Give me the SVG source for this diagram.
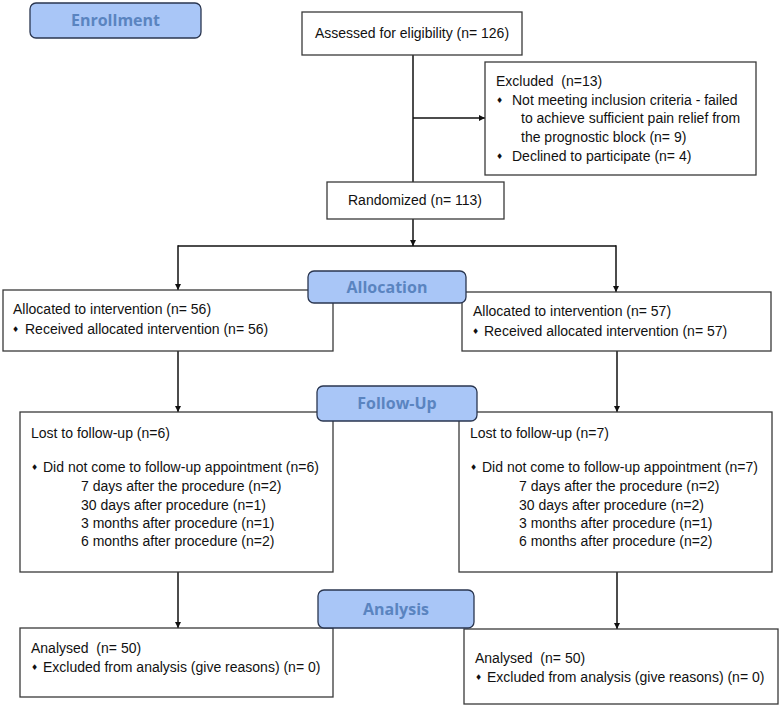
<svg xmlns="http://www.w3.org/2000/svg" width="780" height="707" viewBox="0 0 780 707">
<style>
  .box { fill: #ffffff; stroke: #3a3a3a; stroke-width: 1.3; }
  .lbl { fill: #a9c6f7; stroke: #2a3650; stroke-width: 1.3; }
  .lt { font-family: "Open Sans", "DejaVu Sans", sans-serif; font-weight: 700; font-size: 16px; fill: #5a84c0; text-anchor: middle; }
  .t { font-family: "Liberation Sans", Arial, sans-serif; font-size: 14px; fill: #111111; white-space: pre; }
  .b { font-family: "DejaVu Sans", sans-serif; font-size: 8px; fill: #111111; }
  .c { fill: none; stroke: #111111; stroke-width: 1.5; }
  .ca { fill: none; stroke: #111111; stroke-width: 1.5; marker-end: url(#arr); }
</style>
<defs>
  <marker id="arr" viewBox="0 0 10 10" refX="10" refY="5" markerWidth="6" markerHeight="6" markerUnits="userSpaceOnUse" orient="auto">
    <path d="M0,0 L10,5 L0,10 z" fill="#111111"/>
  </marker>
</defs>
<rect width="780" height="707" fill="#ffffff"/>

<g id="connectors">
  <line class="c" x1="413" y1="55" x2="413" y2="182"/>
  <line class="ca" x1="413" y1="118" x2="485" y2="118"/>
  <line class="ca" x1="413" y1="219" x2="413" y2="246"/>
  <line class="c" x1="178" y1="246" x2="616" y2="246"/>
  <line class="ca" x1="178" y1="245.3" x2="178" y2="290"/>
  <line class="ca" x1="616" y1="245.3" x2="616" y2="292"/>
  <line class="ca" x1="178" y1="351" x2="178" y2="412"/>
  <line class="ca" x1="617" y1="351" x2="617" y2="412"/>
  <line class="ca" x1="178" y1="572" x2="178" y2="628"/>
  <line class="ca" x1="617" y1="572" x2="617" y2="629"/>
</g>

<g id="assessed">
  <rect class="box" x="302" y="12" width="220" height="43"/>
  <text class="t" x="412" y="38" text-anchor="middle">Assessed for eligibility (n= 126)</text>
</g>

<g id="excluded">
  <rect class="box" x="485" y="62" width="271" height="113"/>
  <text class="t" x="496" y="86">Excluded  (n=13)</text>
  <text class="b" x="496" y="103">♦</text>
  <text class="t" x="512" y="105">Not meeting inclusion criteria - failed</text>
  <text class="t" x="521" y="123">to achieve sufficient pain relief from</text>
  <text class="t" x="521" y="142">the prognostic block (n= 9)</text>
  <text class="b" x="496" y="159">♦</text>
  <text class="t" x="512" y="161">Declined to participate (n= 4)</text>
</g>

<g id="randomized">
  <rect class="box" x="327" y="182" width="177" height="37"/>
  <text class="t" x="415" y="205" text-anchor="middle">Randomized (n= 113)</text>
</g>

<g id="alloc-left">
  <rect class="box" x="3" y="290" width="330" height="61"/>
  <text class="t" x="13" y="314">Allocated to intervention (n= 56)</text>
  <text class="b" x="12" y="332">♦</text>
  <text class="t" x="25" y="334">Received allocated intervention (n= 56)</text>
</g>

<g id="alloc-right">
  <rect class="box" x="462" y="292" width="309" height="59"/>
  <text class="t" x="473" y="316">Allocated to intervention (n= 57)</text>
  <text class="b" x="472" y="334">♦</text>
  <text class="t" x="484" y="336">Received allocated intervention (n= 57)</text>
</g>

<g id="fu-left">
  <rect class="box" x="20" y="412" width="313" height="160"/>
  <text class="t" x="31" y="438">Lost to follow-up (n=6)</text>
  <text class="b" x="31" y="470">♦</text>
  <text class="t" x="43" y="472">Did not come to follow-up appointment (n=6)</text>
  <text class="t" x="81" y="491">7 days after the procedure (n=2)</text>
  <text class="t" x="81" y="510">30 days after procedure (n=1)</text>
  <text class="t" x="81" y="528">3 months after procedure (n=1)</text>
  <text class="t" x="81" y="546">6 months after procedure (n=2)</text>
</g>

<g id="fu-right">
  <rect class="box" x="459" y="412" width="313" height="160"/>
  <text class="t" x="470" y="438">Lost to follow-up (n=7)</text>
  <text class="b" x="470" y="470">♦</text>
  <text class="t" x="482" y="472">Did not come to follow-up appointment (n=7)</text>
  <text class="t" x="519" y="491">7 days after the procedure (n=2)</text>
  <text class="t" x="519" y="510">30 days after procedure (n=2)</text>
  <text class="t" x="519" y="528">3 months after procedure (n=1)</text>
  <text class="t" x="519" y="546">6 months after procedure (n=2)</text>
</g>

<g id="an-left">
  <rect class="box" x="20" y="628" width="313" height="69"/>
  <text class="t" x="31" y="653">Analysed  (n= 50)</text>
  <text class="b" x="31" y="670">♦</text>
  <text class="t" x="43" y="672">Excluded from analysis (give reasons) (n= 0)</text>
</g>

<g id="an-right">
  <rect class="box" x="464" y="629" width="314" height="75"/>
  <text class="t" x="475" y="663">Analysed  (n= 50)</text>
  <text class="b" x="475" y="680">♦</text>
  <text class="t" x="487" y="682">Excluded from analysis (give reasons) (n= 0)</text>
</g>

<g id="label-enrollment">
  <rect class="lbl" x="30" y="3" width="171" height="35" rx="6"/>
  <text class="lt" x="115.5" y="26">Enrollment</text>
</g>
<g id="label-allocation">
  <rect class="lbl" x="308" y="271" width="158" height="32" rx="6"/>
  <text class="lt" x="387" y="293">Allocation</text>
</g>
<g id="label-followup">
  <rect class="lbl" x="317" y="386" width="160" height="35" rx="6"/>
  <text class="lt" x="397" y="409">Follow-Up</text>
</g>
<g id="label-analysis">
  <rect class="lbl" x="318" y="590" width="156" height="38" rx="6"/>
  <text class="lt" x="396" y="615">Analysis</text>
</g>
</svg>
